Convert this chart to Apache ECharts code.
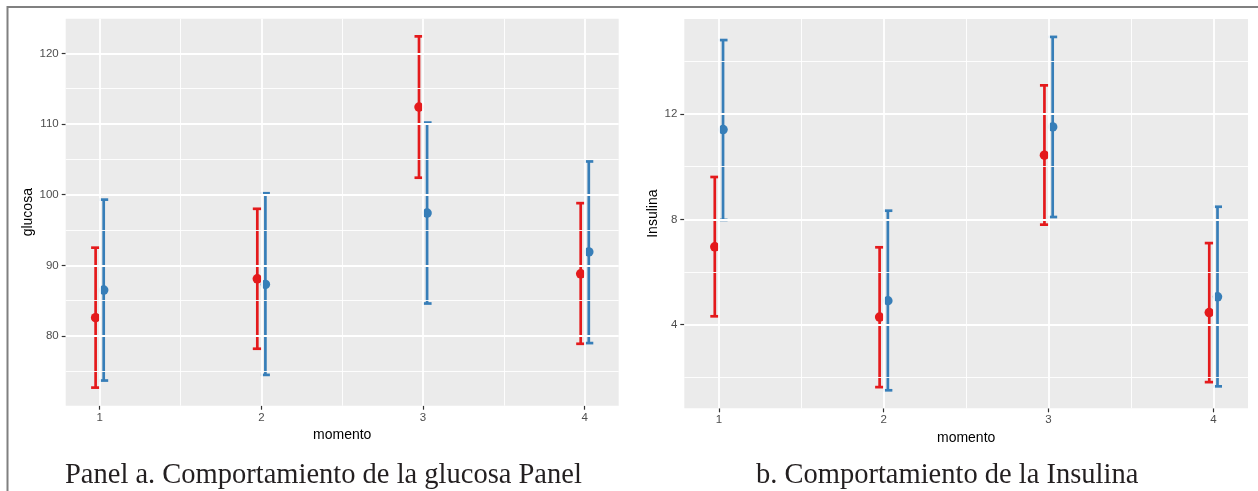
<!DOCTYPE html>
<html>
<head>
<meta charset="utf-8">
<script src="https://cdn.jsdelivr.net/npm/echarts@6/dist/echarts.min.js"></script>
<style>
html,body{margin:0;padding:0;background:#fff;}
#chart{width:1258px;height:491px;}
</style>
</head>
<body>
<div id="chart"></div>
<script>
// ---- data ----
const moments = [1, 2, 3, 4];
const momentLabels = ['1', '2', '3', '4'];

const gluRedMean  = [82.6, 88.1, 112.4, 88.8];
const gluRedLow   = [72.7, 78.2, 102.4, 78.9];
const gluRedHigh  = [92.5, 98.0, 122.4, 98.8];
const gluBlueMean = [86.5, 87.3, 97.4, 91.9];
const gluBlueLow  = [73.7, 74.5, 84.6, 79.0];
const gluBlueHigh = [99.3, 100.2, 110.2, 104.7];

const insRedMean  = [6.96, 4.29, 10.44, 4.46];
const insRedLow   = [4.32, 1.63, 7.80, 1.82];
const insRedHigh  = [9.61, 6.94, 13.09, 7.10];
const insBlueMean = [11.41, 4.91, 11.51, 5.06];
const insBlueLow  = [7.98, 1.51, 8.09, 1.66];
const insBlueHigh = [14.81, 8.33, 14.93, 8.48];

const gluTicks = [80, 90, 100, 110, 120];
const gluMinor = [75, 85, 95, 105, 115];
const insTicks = [4, 8, 12];
const insMinor = [2, 6, 10, 14];
const xMinor = [1.5, 2.5, 3.5];

const captionA = 'Panel a. Comportamiento de la glucosa Panel';
const captionB = 'b. Comportamiento de la Insulina';

// ---- styling ----
const RED = '#E41A1C', BLUE = '#377EB8';
const DODGE = 0.025;

const chart = echarts.init(document.getElementById('chart'), null, {renderer: 'canvas'});

function errRender(color, offset) {
  return function (params, api) {
    const x = api.value(0) + offset;
    const lo = api.coord([x, api.value(1)]);
    const hi = api.coord([x, api.value(2)]);
    const hw = 4.5;
    const st = {stroke: color, lineWidth: 2.7};
    return {type: 'group', children: [
      {type: 'line', shape: {x1: lo[0], y1: lo[1], x2: hi[0], y2: hi[1]}, style: st},
      {type: 'line', shape: {x1: hi[0] - hw, y1: hi[1], x2: hi[0] + hw, y2: hi[1]}, style: st},
      {type: 'line', shape: {x1: lo[0] - hw, y1: lo[1], x2: lo[0] + hw, y2: lo[1]}, style: st}
    ]};
  };
}

function gridLines(idx, yMajor, yMinor) {
  const data = [];
  moments.forEach(v => data.push({xAxis: v, lineStyle: {width: 1.8}}));
  xMinor.forEach(v => data.push({xAxis: v, lineStyle: {width: 0.9}}));
  yMajor.forEach(v => data.push({yAxis: v, lineStyle: {width: 1.8}}));
  yMinor.forEach(v => data.push({yAxis: v, lineStyle: {width: 0.9}}));
  return {
    type: 'scatter', xAxisIndex: idx, yAxisIndex: idx, data: [], z: 1, silent: true,
    markLine: {silent: true, symbol: 'none', label: {show: false},
      lineStyle: {color: '#ffffff', type: 'solid'}, data: data, animation: false}
  };
}

function seriesFor(idx, mean, low, high, color, offset) {
  return [
    {type: 'custom', xAxisIndex: idx, yAxisIndex: idx, z: 3,
     renderItem: errRender(color, offset),
     data: moments.map((m, i) => [m, low[i], high[i]])},
    {type: 'scatter', xAxisIndex: idx, yAxisIndex: idx, z: 4,
     symbol: 'circle', symbolSize: 9.5, itemStyle: {color: color, opacity: 1},
     data: moments.map((m, i) => [m + offset, mean[i]])}
  ];
}

const tickLabel = {color: '#4D4D4D', fontSize: 11.5, fontFamily: 'Liberation Sans, Arial, sans-serif'};
const nameStyle = {color: '#000', fontSize: 14, fontFamily: 'Liberation Sans, Arial, sans-serif'};

function xAxisFor(idx) {
  return {
    type: 'value', gridIndex: idx, min: 0.79, max: 4.21,
    name: 'momento', nameLocation: 'middle', nameGap: 21, nameTextStyle: nameStyle,
    axisLine: {show: false},
    axisTick: {show: true, length: 4, lineStyle: {color: '#333', width: 1.2}, customValues: moments},
    axisLabel: Object.assign({margin: 6, customValues: moments,
      formatter: v => momentLabels[moments.indexOf(v)] ?? ''}, tickLabel),
    splitLine: {show: false}
  };
}

function yAxisFor(idx, min, max, ticks, name, gap) {
  return {
    type: 'value', gridIndex: idx, min: min, max: max,
    name: name, nameLocation: 'middle', nameGap: gap, nameRotate: 90, nameTextStyle: nameStyle,
    axisLine: {show: false},
    axisTick: {show: true, length: 4, lineStyle: {color: '#333', width: 1.2}, customValues: ticks},
    axisLabel: Object.assign({margin: 7, customValues: ticks}, tickLabel),
    splitLine: {show: false}
  };
}

const option = {
  animation: false,
  backgroundColor: '#ffffff',
  grid: [
    {left: 65.7, top: 18.7, width: 553, height: 387, show: true, backgroundColor: '#EBEBEB', borderWidth: 0, containLabel: false},
    {left: 684.3, top: 19, width: 563.7, height: 389.3, show: true, backgroundColor: '#EBEBEB', borderWidth: 0, containLabel: false}
  ],
  xAxis: [xAxisFor(0), xAxisFor(1)],
  yAxis: [
    yAxisFor(0, 70.14, 124.9, gluTicks, 'glucosa', 27),
    yAxisFor(1, 0.826, 15.61, insTicks, 'Insulina', 20)
  ],
  series: [
    gridLines(0, gluTicks, gluMinor),
    gridLines(1, insTicks, insMinor),
    ...seriesFor(0, gluRedMean, gluRedLow, gluRedHigh, RED, -DODGE),
    ...seriesFor(0, gluBlueMean, gluBlueLow, gluBlueHigh, BLUE, DODGE),
    ...seriesFor(1, insRedMean, insRedLow, insRedHigh, RED, -DODGE),
    ...seriesFor(1, insBlueMean, insBlueLow, insBlueHigh, BLUE, DODGE)
  ],
  graphic: [
    {type: 'line', silent: true, shape: {x1: 7, y1: 7, x2: 1258, y2: 7}, style: {stroke: '#808080', lineWidth: 2}},
    {type: 'line', silent: true, shape: {x1: 7.5, y1: 6, x2: 7.5, y2: 491}, style: {stroke: '#808080', lineWidth: 2}},
    {type: 'text', silent: true, left: 65, top: 461,
     style: {text: captionA, font: '28.5px "Liberation Serif", serif', fill: '#231F20'}},
    {type: 'text', silent: true, left: 756, top: 461,
     style: {text: captionB, font: '28.5px "Liberation Serif", serif', fill: '#231F20'}}
  ]
};
chart.setOption(option);
</script>
</body>
</html>
